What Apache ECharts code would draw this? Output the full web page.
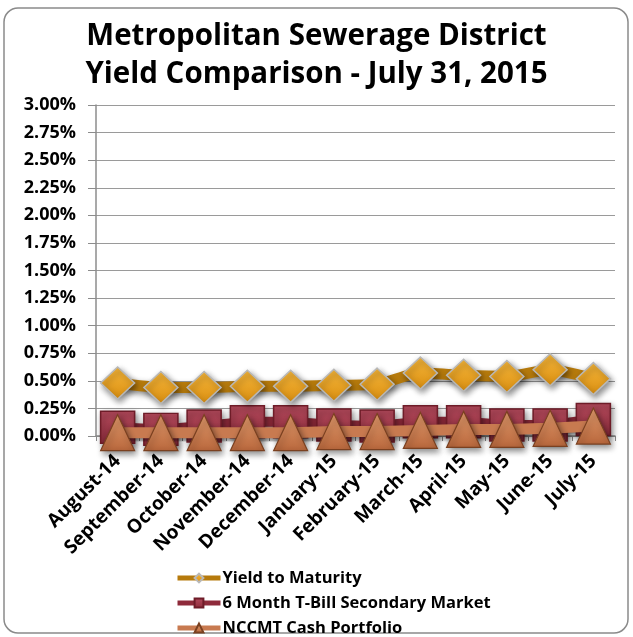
<!DOCTYPE html>
<html><head><meta charset="utf-8">
<script src="https://cdn.jsdelivr.net/npm/echarts@6/dist/echarts.min.js"></script>
<style>html,body{margin:0;padding:0;background:#fff}#c{width:633px;height:637px}</style>
</head><body><div id="c"></div>
<script>
const categories = ['August-14','September-14','October-14','November-14','December-14','January-15','February-15','March-15','April-15','May-15','June-15','July-15'];
const yieldToMaturity = [0.48,0.44,0.44,0.45,0.45,0.46,0.47,0.57,0.55,0.54,0.60,0.52];
const tBill6Month = [0.08,0.06,0.09,0.13,0.13,0.10,0.09,0.13,0.13,0.10,0.10,0.15];
const nccmtCash = [0.03,0.03,0.03,0.03,0.03,0.04,0.04,0.05,0.06,0.06,0.07,0.09];
const seriesNames = ['Yield to Maturity','6 Month T-Bill Secondary Market','NCCMT Cash Portfolio'];
const titleLines = ['Metropolitan Sewerage District','Yield Comparison - July 31, 2015'];

const FONT = '"Open Sans", "DejaVu Sans", sans-serif';
const chart = echarts.init(document.getElementById('c'), null, {renderer:'canvas'});
function grad(c1,c2){return new echarts.graphic.LinearGradient(0,0,0,1,[{offset:0,color:c1},{offset:1,color:c2}]);}
const shadow = {shadowBlur:6, shadowColor:'rgba(0,0,0,0.45)', shadowOffsetX:2, shadowOffsetY:3};
chart.setOption({
  animation:false,
  graphic:[{type:'rect',shape:{x:4,y:8,width:624,height:625,r:14},style:{fill:'none',stroke:'#8a8a8a',lineWidth:1.5},z:-1}],
  title:{text:titleLines.join('\n'),left:'center',top:13,textStyle:{fontFamily:FONT,fontWeight:'bold',fontSize:29.5,lineHeight:38,color:'#000'}},
  grid:{left:96,right:18,top:105,bottom:201,containLabel:false},
  legend:{orient:'vertical',left:175,top:569,height:69,padding:0,itemWidth:43,itemHeight:11,itemGap:7,
    lineStyle:{width:5},
    textStyle:{fontFamily:FONT,fontWeight:'bold',fontSize:16.5,lineHeight:18,color:'#000',padding:[0,0,0,-3]},data:seriesNames},
  xAxis:{type:'category',data:categories,boundaryGap:true,
    axisLine:{show:true,lineStyle:{color:'#8c8c8c',width:1.5}},
    axisTick:{show:true,alignWithLabel:false,length:5,lineStyle:{color:'#8c8c8c'}},
    axisLabel:{rotate:45,interval:0,margin:22,fontFamily:FONT,fontWeight:'bold',fontSize:19,color:'#000'}},
  yAxis:{type:'value',min:0,max:3,interval:0.25,
    axisLine:{show:true,lineStyle:{color:'#8c8c8c',width:1.5}},
    axisTick:{show:true,length:8,lineStyle:{color:'#8c8c8c'}},
    splitLine:{show:true,lineStyle:{color:'#9a9a9a',width:1.2}},
    axisLabel:{margin:20,fontFamily:FONT,fontWeight:'bold',fontSize:18,color:'#000',formatter:v=>v.toFixed(2)+'%'}},
  series:[
    {name:seriesNames[0],type:'line',data:yieldToMaturity,smooth:0.2,z:3,
      lineStyle:{color:'#B67A0C',width:11,...shadow},
      symbol:'diamond',symbolSize:[34,32],
      itemStyle:{color:grad('#F6B73C','#D98E10'),borderColor:'#B8B8B8',borderWidth:1.5,...shadow}},
    {name:seriesNames[1],type:'line',data:tBill6Month,z:2,
      lineStyle:{color:'#8E2A3A',width:10,...shadow},
      symbol:'rect',symbolSize:[34,32],
      itemStyle:{color:grad('#B44A5C','#8E2C3C'),borderColor:'#6E1C28',borderWidth:1.5,...shadow}},
    {name:seriesNames[2],type:'line',data:nccmtCash,z:4,
      lineStyle:{color:'#C87A50',width:11,...shadow},
      symbol:'triangle',symbolSize:[34,36],
      itemStyle:{color:grad('#E29A6C','#B8673C'),borderColor:'#7A4020',borderWidth:1.2,...shadow}}
  ]
});
</script></body></html>
